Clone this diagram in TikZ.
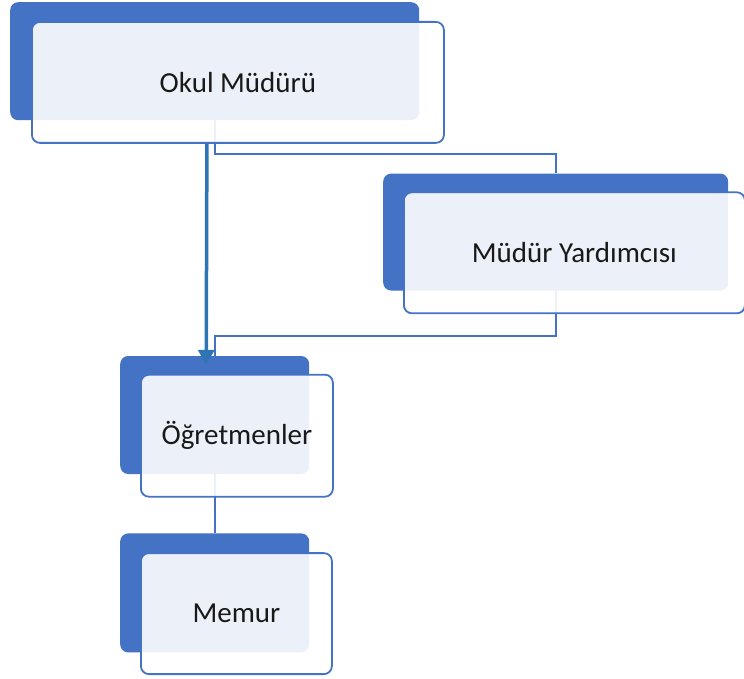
\documentclass[tikz,border=0pt]{standalone}
\usepackage{fontspec}
\setmainfont{Carlito}
\usepackage{xcolor}
\usepackage{tikz}
\usetikzlibrary{shapes,arrows.meta,positioning,backgrounds}

\definecolor{backblue}{HTML}{4472C4}
\definecolor{arrowblue}{HTML}{2E75B6}

\begin{document}
\begin{tikzpicture}[
    x=1pt, y=-1pt,
    box/.style={rectangle, fill=backblue, rounded corners=8pt, minimum width=189pt, minimum height=118pt, inner sep=0pt},
    panel/.style={rectangle, draw=backblue, line width=1.8pt, fill=white, fill opacity=0.9, text opacity=1, rounded corners=8pt, minimum width=192pt, minimum height=122pt, anchor=north west, inner sep=0pt, text=black!90, font=\fontsize{29}{34}\selectfont},
    link/.style={draw=backblue, line width=2pt},
    arrow/.style={-{Triangle[length=15pt,width=16pt]}, draw=arrowblue, line width=3.5pt}
]
\useasboundingbox (0,0) rectangle (744,679);

% back boxes
\node[box, minimum width=409pt, anchor=north west] (mudur) at (10,2) {};
\node[box, minimum width=345pt, minimum height=117pt, below=53pt of mudur, xshift=341pt] (yard) {};
\node[box, below=65pt of yard, xshift=-341pt] (ogret) {};
\node[box, minimum height=119pt, below=59pt of ogret] (memur) {};

% front panels
\node[panel, minimum width=412pt, minimum height=121pt, xshift=21pt, yshift=-19pt] (mudurp) at (mudur.north west) {Okul Müdürü};
\node[panel, minimum width=341pt, minimum height=121pt, xshift=20pt, yshift=-18pt] (yardp) at (yard.north west) {Müdür Yardımcısı};
\node[panel, xshift=20pt, yshift=-18pt] (ogretp) at (ogret.north west) {Öğretmenler};
\node[panel, minimum width=191pt, minimum height=121pt, xshift=20pt, yshift=-19pt] (memurp) at (memur.north west) {Memur};

% connectors
\begin{scope}[on background layer]
\draw[link] (mudur.south) -- ++(0,34) -| (yard.north);
\draw[link] (yard.south) -- ++(0,45) -| (ogret.north);
\draw[link] (ogret.south) -- (memur.north);
\end{scope}
\draw[arrow] ([xshift=-31pt]mudurp.south) -- ([xshift=-8.5pt,yshift=-9pt]ogret.north);

\end{tikzpicture}
\end{document}
